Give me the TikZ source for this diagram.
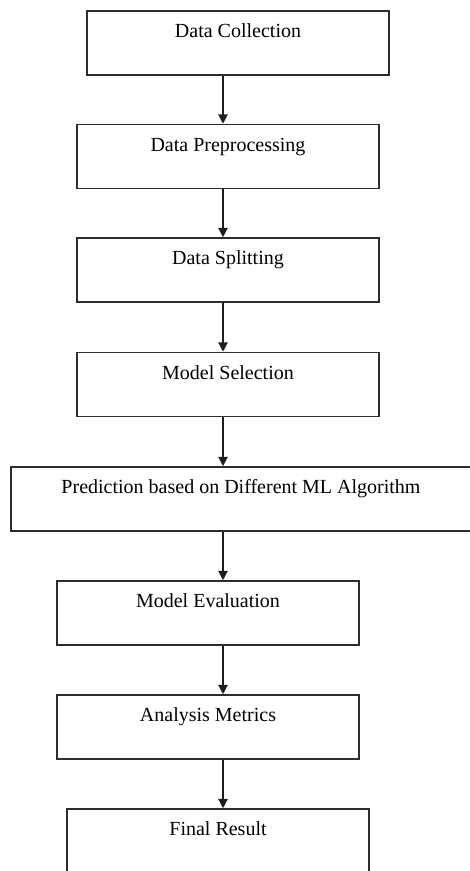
\documentclass[tikz,border=0pt]{standalone}
\usepackage{fontspec}
\setmainfont{Liberation Serif}
\usetikzlibrary{arrows.meta}

\tikzset{every picture/.style={line width=0.75pt}}
\tikzset{
  stagebox/.style={draw={rgb,255:red,45;green,45;blue,45}, line width=1.2pt, inner sep=0pt,
    minimum width=#1*0.75pt, text height=20pt, text depth=28pt,
    font=\fontsize{15}{18}\selectfont},
  stagebox/.default=302,
  flowarrow/.style={draw={rgb,255:red,30;green,30;blue,30}, line width=1pt,
    -{Triangle[width=7pt,length=7pt]}}
}

\begin{document}
\begin{tikzpicture}[x=0.75pt,y=0.75pt,yscale=-1,xscale=1]
\useasboundingbox (0,0) rectangle (470,871);

%Shape: Rectangle
\node [stagebox] (dc) at (238,43) {Data Collection};
%Shape: Rectangle
\node [stagebox] (dp) at (228,156.5) {Data Preprocessing};
%Shape: Rectangle
\node [stagebox] (ds) at (228,270) {Data Splitting};
%Shape: Rectangle
\node [stagebox] (ms) at (228,384.5) {Model Selection};
%Shape: Rectangle
\node [stagebox=460] (pr) at (241,499) {Prediction based on Different ML Algorithm};
%Shape: Rectangle
\node [stagebox] (me) at (208,613) {Model Evaluation};
%Shape: Rectangle
\node [stagebox] (am) at (208,727) {Analysis Metrics};
%Shape: Rectangle
\node [stagebox] (fr) at (218,841) {Final Result};

%Straight Lines
\coordinate (spine) at (223,0);
\draw [flowarrow] (dc.south -| spine) -- (dp.north -| spine);
\draw [flowarrow] (dp.south -| spine) -- (ds.north -| spine);
\draw [flowarrow] (ds.south -| spine) -- (ms.north -| spine);
\draw [flowarrow] (ms.south -| spine) -- (pr.north -| spine);
\draw [flowarrow] (pr.south -| spine) -- (me.north -| spine);
\draw [flowarrow] (me.south -| spine) -- (am.north -| spine);
\draw [flowarrow] (am.south -| spine) -- (fr.north -| spine);

\end{tikzpicture}
\end{document}
